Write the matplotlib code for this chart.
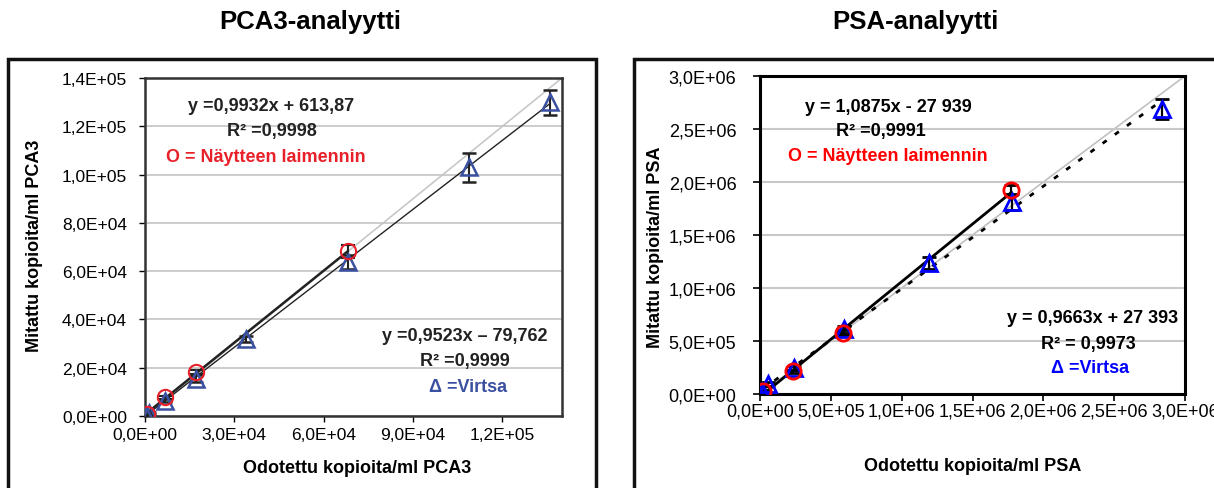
import numpy as np
import matplotlib
matplotlib.use("Agg")
import matplotlib.pyplot as plt
from matplotlib.patches import Rectangle
from matplotlib.ticker import FuncFormatter, MultipleLocator

plt.rcParams['font.family'] = ['Liberation Sans', 'DejaVu Sans']

# PCA3 data (expected vs measured copies/ml)
pca3_virtsa_x = [500, 1400, 6800, 17000, 34000, 68000, 108800, 136000]
pca3_virtsa_y = [300, 1200, 6300, 15500, 32000, 63800, 103000, 130000]
pca3_virtsa_err = [300, 400, 700, 1500, 1200, 2900, 6000, 5200]
pca3_laim_x = [700, 6800, 17000, 68000]
pca3_laim_y = [800, 7800, 18200, 68300]
pca3_laim_err = [300, 600, 900, 2700]
pca3_fit_laim = (0.9932, 613.87)
pca3_fit_virtsa = (0.9523, -79.762)

# PSA data
psa_virtsa_x = [16000, 56000, 240000, 593000, 1190000, 1780000, 2840000]
psa_virtsa_y = [16000, 92000, 243000, 610000, 1240000, 1810000, 2690000]
psa_virtsa_err = [15000, 20000, 20000, 30000, 57000, 75000, 95000]
psa_laim_x = [21000, 233000, 586000, 1775000]
psa_laim_y = [25000, 214000, 580000, 1925000]
psa_laim_err = [10000, 15000, 20000, 47000]
psa_fit_laim = (1.0875, -27939)
psa_fit_virtsa = (0.9663, 27393)


def sci_comma(v, pos):
    return ("%.1E" % v).replace('.', ',')


fig = plt.figure(figsize=(12.14, 4.89), dpi=100)
W, H = 1214.0, 489.0

# outer frames of both panels
for x0, x1 in [(8, 596), (634, 1230)]:
    fig.patches.append(Rectangle((x0 / W, -0.05), (x1 - x0) / W, (H - 60) / H + 0.05,
                                 transform=fig.transFigure, fill=False,
                                 edgecolor='#111111', lw=2.5, zorder=0))

fig.text(310 / W, 1 - 22 / H, 'PCA3-analyytti', ha='center', va='center',
         fontsize=18.5, fontweight='bold')
fig.text(915 / W, 1 - 22 / H, 'PSA-analyytti', ha='center', va='center',
         fontsize=18.5, fontweight='bold')

# ---------- left: PCA3 ----------
ax1 = fig.add_axes([145 / W, 1 - 417 / H, 417 / W, 338 / H])
ax1.set_xlim(0, 1.4e5)
ax1.set_ylim(0, 1.4e5)
ax1.xaxis.set_major_locator(MultipleLocator(3e4))
ax1.yaxis.set_major_locator(MultipleLocator(2e4))
ax1.xaxis.set_major_formatter(FuncFormatter(sci_comma))
ax1.yaxis.set_major_formatter(FuncFormatter(sci_comma))
ax1.grid(axis='y', color='#c4c4c4', lw=1.2, zorder=0)
ax1.tick_params(axis='both', direction='out', length=4, width=1, labelsize=12.5)
ax1.tick_params(axis='y', pad=9)
ax1.tick_params(axis='x', pad=4)
for s in ax1.spines.values():
    s.set_color('#333333')
    s.set_linewidth(1.8)

ax1.plot([0, 1.4e5], [0, 1.4e5], color='#c8c8c8', lw=1.2, zorder=1)
xl = np.array([min(pca3_laim_x), max(pca3_laim_x)])
ax1.plot(xl, pca3_fit_laim[0] * xl + pca3_fit_laim[1], color='#222222', lw=1.8, zorder=2)
xv = np.array([min(pca3_virtsa_x), max(pca3_virtsa_x)])
ax1.plot(xv, pca3_fit_virtsa[0] * xv + pca3_fit_virtsa[1], color='#222222', lw=1.0, zorder=2)

ax1.errorbar(pca3_virtsa_x, pca3_virtsa_y, yerr=pca3_virtsa_err, fmt='^', ms=11,
             mfc='none', mec='#3a50a0', mew=1.8, ecolor='#222222', elinewidth=1.5,
             capsize=5, capthick=1.5, zorder=3)
ax1.errorbar(pca3_laim_x, pca3_laim_y, yerr=pca3_laim_err, fmt='o', ms=11,
             mfc='none', mec='#e8202a', mew=1.5, ecolor='#222222', elinewidth=1.5,
             capsize=5, capthick=1.5, zorder=3)

ax1.add_patch(Rectangle((0.029, 0.70), 0.58, 0.28, transform=ax1.transAxes,
                        facecolor='white', edgecolor='none', zorder=1.5))
ax1.add_patch(Rectangle((0.561, 0.07), 0.437, 0.275, transform=ax1.transAxes,
                        facecolor='white', edgecolor='none', zorder=1.5))
tk = dict(transform=ax1.transAxes, ha='center', va='center', fontsize=13,
          fontweight='bold', zorder=5)
ax1.text(0.302, 0.92, 'y =0,9932x + 613,87', color='#222222', **tk)
ax1.text(0.305, 0.846, 'R² =0,9998', color='#222222', **tk)
ax1.text(0.29, 0.769, 'O = Näytteen laimennin', color='#e8202a', **tk)
ax1.text(0.767, 0.237, 'y =0,9523x – 79,762', color='#222222', **tk)
ax1.text(0.767, 0.163, 'R² =0,9999', color='#222222', **tk)
ax1.text(0.775, 0.086, 'Δ =Virtsa', color='#3a50a0', **tk)

fig.text(357 / W, 1 - 469 / H, 'Odotettu kopioita/ml PCA3', ha='center', va='center',
         fontsize=13, fontweight='bold')
fig.text(35 / W, 1 - 246 / H, 'Mitattu kopioita/ml PCA3', ha='center', va='center',
         rotation=90, fontsize=13, fontweight='bold')

# ---------- right: PSA ----------
ax2 = fig.add_axes([760 / W, 1 - 395 / H, 425 / W, 318 / H])
ax2.set_xlim(0, 3e6)
ax2.set_ylim(0, 3e6)
ax2.xaxis.set_major_locator(MultipleLocator(5e5))
ax2.yaxis.set_major_locator(MultipleLocator(5e5))
ax2.xaxis.set_major_formatter(FuncFormatter(sci_comma))
ax2.yaxis.set_major_formatter(FuncFormatter(sci_comma))
ax2.grid(axis='y', color='#c8c8c8', lw=1.5, zorder=0)
ax2.tick_params(axis='both', direction='out', length=5, width=1.2, labelsize=13)
ax2.tick_params(axis='y', pad=12)
ax2.tick_params(axis='x', pad=1)
for s in ax2.spines.values():
    s.set_color('black')
    s.set_linewidth(2.2)

ax2.plot([0, 3e6], [0, 3e6], color='#c0c0c0', lw=1.2, zorder=1)
xl = np.array([min(psa_laim_x), max(psa_laim_x)])
ax2.plot(xl, psa_fit_laim[0] * xl + psa_fit_laim[1], color='black', lw=2.0, zorder=2)
xv = np.array([min(psa_virtsa_x), max(psa_virtsa_x)])
ax2.plot(xv, psa_fit_virtsa[0] * xv + psa_fit_virtsa[1], color='black', lw=2.0,
         ls=(0, (1.8, 3.6)), zorder=2)

ax2.errorbar(psa_virtsa_x, psa_virtsa_y, yerr=psa_virtsa_err, fmt='^', ms=11,
             mfc='none', mec='#0000ff', mew=2.0, ecolor='black', elinewidth=1.6,
             capsize=5, capthick=1.6, zorder=3)
ax2.errorbar(psa_laim_x, psa_laim_y, yerr=psa_laim_err, fmt='o', ms=11,
             mfc='none', mec='#ff0000', mew=2.0, ecolor='black', elinewidth=1.6,
             capsize=5, capthick=1.6, zorder=3)

ax2.add_patch(Rectangle((0.045, 0.70), 0.50, 0.265, transform=ax2.transAxes,
                        facecolor='white', edgecolor='none', zorder=1.5))
ax2.add_patch(Rectangle((0.574, 0.046), 0.40, 0.25, transform=ax2.transAxes,
                        facecolor='white', edgecolor='none', zorder=1.5))
tk2 = dict(transform=ax2.transAxes, ha='center', va='center', fontsize=13,
           fontweight='bold', zorder=5)
ax2.text(0.301, 0.905, 'y = 1,0875x - 27 939', color='black', **tk2)
ax2.text(0.285, 0.829, 'R² =0,9991', color='black', **tk2)
ax2.text(0.301, 0.751, 'O = Näytteen laimennin', color='#ff0000', **tk2)
ax2.text(0.782, 0.241, 'y = 0,9663x + 27 393', color='black', **tk2)
ax2.text(0.772, 0.16, 'R² = 0,9973', color='black', **tk2)
ax2.text(0.776, 0.084, 'Δ =Virtsa', color='#0000ff', **tk2)

fig.text(973 / W, 1 - 467 / H, 'Odotettu kopioita/ml PSA', ha='center', va='center',
         fontsize=13, fontweight='bold')
fig.text(655 / W, 1 - 247 / H, 'Mitattu kopioita/ml PSA', ha='center', va='center',
         rotation=90, fontsize=13, fontweight='bold')

fig.savefig('out.png', dpi=100)
